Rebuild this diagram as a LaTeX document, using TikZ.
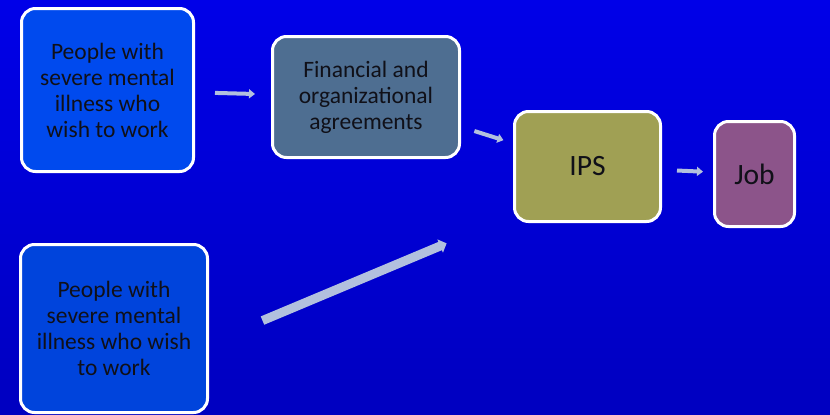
\documentclass[tikz,border=0pt]{standalone}
\usepackage{fontspec}
\setmainfont{Carlito}
\usetikzlibrary{arrows.meta,calc}
\definecolor{bgtop}{RGB}{0,0,232}
\definecolor{bgbot}{RGB}{0,0,192}
\definecolor{peoplea}{RGB}{0,74,238}
\definecolor{peopleb}{RGB}{0,68,220}
\definecolor{fincol}{RGB}{78,110,145}
\definecolor{ipscol}{RGB}{160,160,84}
\definecolor{jobcol}{RGB}{140,84,138}
\definecolor{arrcol}{RGB}{178,192,222}
\definecolor{txtcol}{RGB}{16,16,24}
\tikzset{
  box/.style={draw=white, line width=3pt, rounded corners=14pt, align=center,
    text=txtcol, inner sep=0pt, outer sep=1.5pt, font=\fontsize{23.5}{26}\selectfont},
  bigtxt/.style={font=\fontsize{29.5}{32}\selectfont},
  arr/.style={draw=arrcol, line width=4pt, -{Triangle[length=6pt,width=9pt]}},
  wide/.style={draw=arrcol, line width=9pt, -{Triangle[length=7pt,width=14pt]}}
}
\begin{document}
\begin{tikzpicture}[x=1pt,y=-1pt]
\useasboundingbox (0,0) rectangle (830,415);
\shade[top color=bgtop, bottom color=bgbot] (0,0) rectangle (830,415);
\node[box, fill=peoplea, minimum width=172pt, minimum height=163pt] (b1) at (107.5,90)
  {People with\\severe mental\\illness who\\wish to work};
\node[box, fill=fincol, minimum width=187pt, minimum height=121pt] (b2) at (366,97)
  {Financial and\\organizational\\agreements};
\node[box, bigtxt, fill=ipscol, minimum width=146pt, minimum height=110pt] (ips) at (587.5,166.5)
  {IPS};
\node[box, bigtxt, fill=jobcol, minimum width=80pt, minimum height=105pt] (job) at (754.5,174)
  {Job};
\node[box, fill=peopleb, minimum width=187pt, minimum height=168pt] (b5) at (114,328.5)
  {People with\\severe mental\\illness who wish\\to work};
\draw[arr, shorten <=20pt, shorten >=16pt] (b1) -- (b2);
\draw[arr, shorten <=14pt, shorten >=10pt] (b2) -- (ips);
\draw[arr, shorten <=15pt, shorten >=10pt] (ips) -- (job);
\draw[wide, shorten <=58pt, shorten >=72pt] ([yshift=-14.5pt]b5.east) -- ([yshift=7.5pt]ips.south west);
\end{tikzpicture}
\end{document}
